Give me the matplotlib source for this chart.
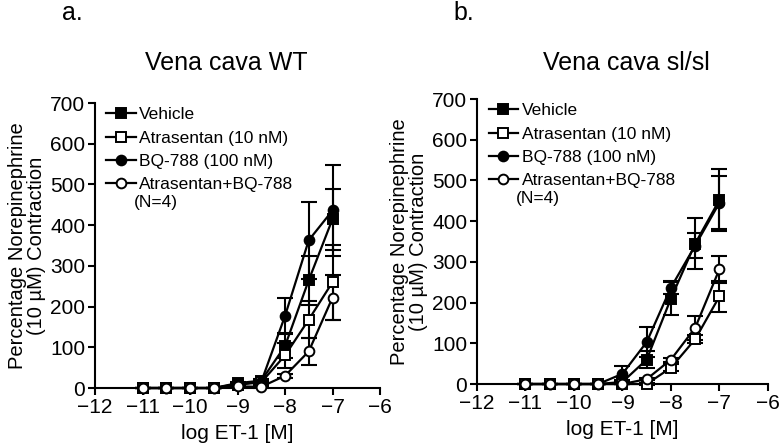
import numpy as np
import matplotlib
matplotlib.use("Agg")
import matplotlib.pyplot as plt

plt.rcParams['font.family'] = ['Liberation Sans', 'DejaVu Sans']

# log ET-1 concentrations
log_et1 = [-11, -10.5, -10, -9.5, -9, -8.5, -8, -7.5, -7]

# panel a: Vena cava WT
veh_wt = [0, 0, 0, 0, 12, 18, 103, 265, 415]
veh_wt_err = [0, 0, 0, 0, 3, 4, 30, 60, 75]
atr_wt = [0, 0, 0, 0, 8, 14, 80, 168, 260]
atr_wt_err = [0, 0, 0, 0, 2, 3, 30, 45, 92]
bq_wt = [0, 0, 0, 0, 10, 15, 177, 363, 436]
bq_wt_err = [0, 0, 0, 0, 3, 4, 43, 95, 111]
cmb_wt = [0, 0, 0, 0, 4, 3, 30, 90, 222]
cmb_wt_err = [0, 0, 0, 0, 2, 2, 5, 33, 55]

# panel b: Vena cava sl/sl
veh_sl = [0, 0, 0, 0, 5, 60, 210, 345, 452]
veh_sl_err = [0, 0, 0, 0, 5, 20, 40, 62, 75]
atr_sl = [0, 0, 0, 0, 0, 0, 40, 110, 215]
atr_sl_err = [0, 0, 0, 0, 0, 2, 8, 10, 37]
bq_sl = [0, 0, 0, 0, 25, 103, 237, 340, 445]
bq_sl_err = [0, 0, 0, 0, 20, 37, 15, 30, 65]
cmb_sl = [0, 0, 0, 0, 0, 12, 60, 138, 282]
cmb_sl_err = [0, 0, 0, 0, 0, 3, 5, 30, 33]

labels = ["Vehicle", "Atrasentan (10 nM)", "BQ-788 (100 nM)", "Atrasentan+BQ-788"]
markers = ['s', 's', 'o', 'o']
faces = ['black', 'white', 'black', 'white']
xticks = [-12, -11, -10, -9, -8, -7, -6]
yticks = [0, 100, 200, 300, 400, 500, 600, 700]


def panel(ax, series, errs):
    handles = []
    for y, e, m, fc, lab in zip(series, errs, markers, faces, labels):
        ax.errorbar(log_et1, y, yerr=e, fmt='none', ecolor='black',
                    elinewidth=1.5, capsize=5.5, capthick=1.5, clip_on=False)
        h, = ax.plot(log_et1, y, color='black', lw=1.6, marker=m,
                     markersize=7, markerfacecolor=fc, markeredgecolor='black',
                     markeredgewidth=1.4, label=lab, clip_on=False, zorder=3)
        handles.append(h)
    ax.set_xlim(-12, -6)
    ax.set_ylim(0, 700)
    ax.set_xticks(xticks)
    ax.set_yticks(yticks)
    ax.spines['top'].set_visible(False)
    ax.spines['right'].set_visible(False)
    ax.spines['left'].set_linewidth(1.5)
    ax.spines['bottom'].set_linewidth(1.5)
    ax.tick_params(direction='out', length=5, width=1.5, labelsize=15, pad=2)
    ax.set_xlabel("log ET-1 [M]", fontsize=15, labelpad=5)
    ax.set_ylabel("Percentage Norepinephrine\n(10 \u00b5M) Contraction",
                  fontsize=14.5, linespacing=1.0, labelpad=3)
    leg = ax.legend(handles=handles, loc='upper left', bbox_to_anchor=(0.04, 0.985),
                    frameon=False, fontsize=12.5, handlelength=1.7,
                    handletextpad=0.2, labelspacing=0.47, borderaxespad=0,
                    borderpad=0)
    ax.text(0.135, 0.652, "(N=4)", transform=ax.transAxes, fontsize=12.5,
            ha='left', va='center')
    return leg


fig = plt.figure(figsize=(7.8, 4.44), dpi=100)
ax1 = fig.add_axes([0.1218, 0.1261, 0.3654, 0.6419])
ax2 = fig.add_axes([0.6115, 0.1351, 0.373, 0.6419])

panel(ax1, [veh_wt, atr_wt, bq_wt, cmb_wt], [veh_wt_err, atr_wt_err, bq_wt_err, cmb_wt_err])
panel(ax2, [veh_sl, atr_sl, bq_sl, cmb_sl], [veh_sl_err, atr_sl_err, bq_sl_err, cmb_sl_err])

fig.text(62 / 780, 1 - 13 / 444, "a.", fontsize=18, ha='left', va='center')
fig.text(453 / 780, 1 - 13 / 444, "b.", fontsize=18, ha='left', va='center')
fig.text(226 / 780, 1 - 63 / 444, "Vena cava WT", fontsize=18, ha='center', va='center')
fig.text(626 / 780, 1 - 63 / 444, "Vena cava sl/sl", fontsize=18, ha='center', va='center')

fig.savefig("out.png", dpi=100)
